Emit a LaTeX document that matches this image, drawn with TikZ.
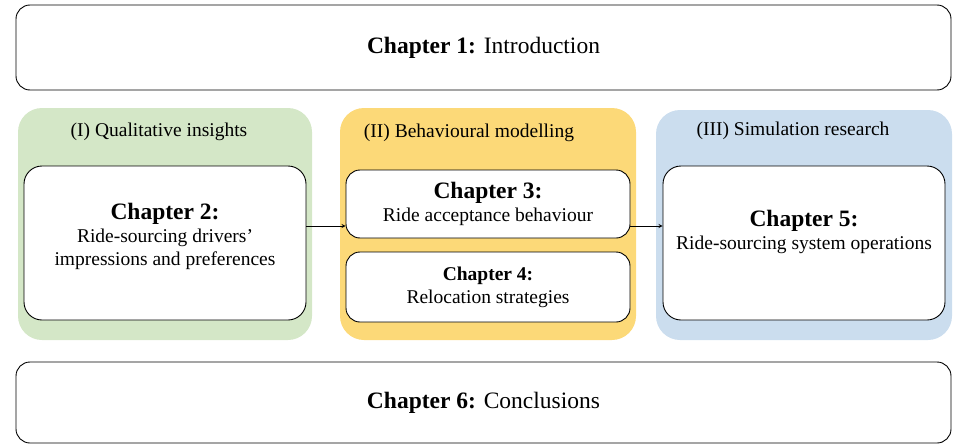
\documentclass[tikz,border=0pt]{standalone}
\usepackage{fontspec}
\setmainfont{Liberation Serif}
\usepackage{tikz}
\definecolor{qualgreen}{RGB}{212,231,199}
\definecolor{behyellow}{RGB}{252,217,120}
\definecolor{simblue}{RGB}{203,221,238}
\tikzstyle{chapter}=[draw, line width=0.9pt, fill=white, rounded corners=18pt, align=center, inner sep=0pt]
\tikzstyle{wide}=[chapter, rounded corners=14pt, minimum width=935pt, font=\fontsize{23.5}{28}\selectfont]
\tikzstyle{group}=[rounded corners=24pt, minimum width=296pt, minimum height=232pt]
\tikzstyle{head}=[font=\fontsize{19.5}{23}\selectfont]
\tikzstyle{body}=[align=center, font=\fontsize{19.5}{23}\selectfont]

\begin{document}
\begin{tikzpicture}[x=1pt, y=-1pt, >=stealth]
                    \useasboundingbox (0,0) rectangle (953,447);
                    % top and bottom
                    \node[wide, minimum height=85pt] (ch1) at (483.5, 47.5) {\textbf{Chapter 1:} Introduction};
                    \node[wide, minimum height=81pt] (ch6) at (483.5, 402.5) {\textbf{Chapter 6:} Conclusions};
                    % three parts
                    \node[group, fill=qualgreen, minimum width=294pt] (qual) at (165, 224) {};
                    \node[group, fill=behyellow] (beh) at (488, 224) {};
                    \node[group, fill=simblue, minimum height=230pt] (sim) at (804, 225) {};
                    \node[head] (qualh) at (159, 132) {(I) Qualitative insights};
                    \node[head] (behh) at (469, 133) {(II) Behavioural modelling};
                    \node[head] (simh) at (793, 131) {(III) Simulation research};
                    % chapters
                    \node[chapter, minimum width=282pt, minimum height=154pt] (ch2) at (165, 243) {};
                    \node[body] (ch2text) at (165, 236)
                        {{\fontsize{23.5}{27}\selectfont\bfseries Chapter 2:}\\Ride-sourcing drivers'\\impressions and preferences};
                    \node[chapter, body, minimum width=284pt, minimum height=68pt, rounded corners=14pt] (ch3) at (488, 204)
                        {{\fontsize{23.5}{26}\selectfont\bfseries Chapter 3:}\\Ride acceptance behaviour};
                    \node[chapter, body, minimum width=284pt, minimum height=70pt, rounded corners=14pt] (ch4) at (488, 287)
                        {{\fontsize{19.5}{24}\selectfont\bfseries Chapter 4:}\\Relocation strategies};
                    \node[chapter, minimum width=282pt, minimum height=154pt] (ch5) at (804, 243) {};
                    \node[body] (ch5text) at (804, 232)
                        {{\fontsize{23.5}{27}\selectfont\bfseries Chapter 5:}\\Ride-sourcing system operations};
                    % arrows
                    \draw[->, line width=0.8pt] ([yshift=17pt]ch2.east) -- ([yshift=-22pt]ch3.west);
                    \draw[->, line width=0.8pt] ([yshift=-22pt]ch3.east) -- ([yshift=17pt]ch5.west);
                \end{tikzpicture}
\end{document}
